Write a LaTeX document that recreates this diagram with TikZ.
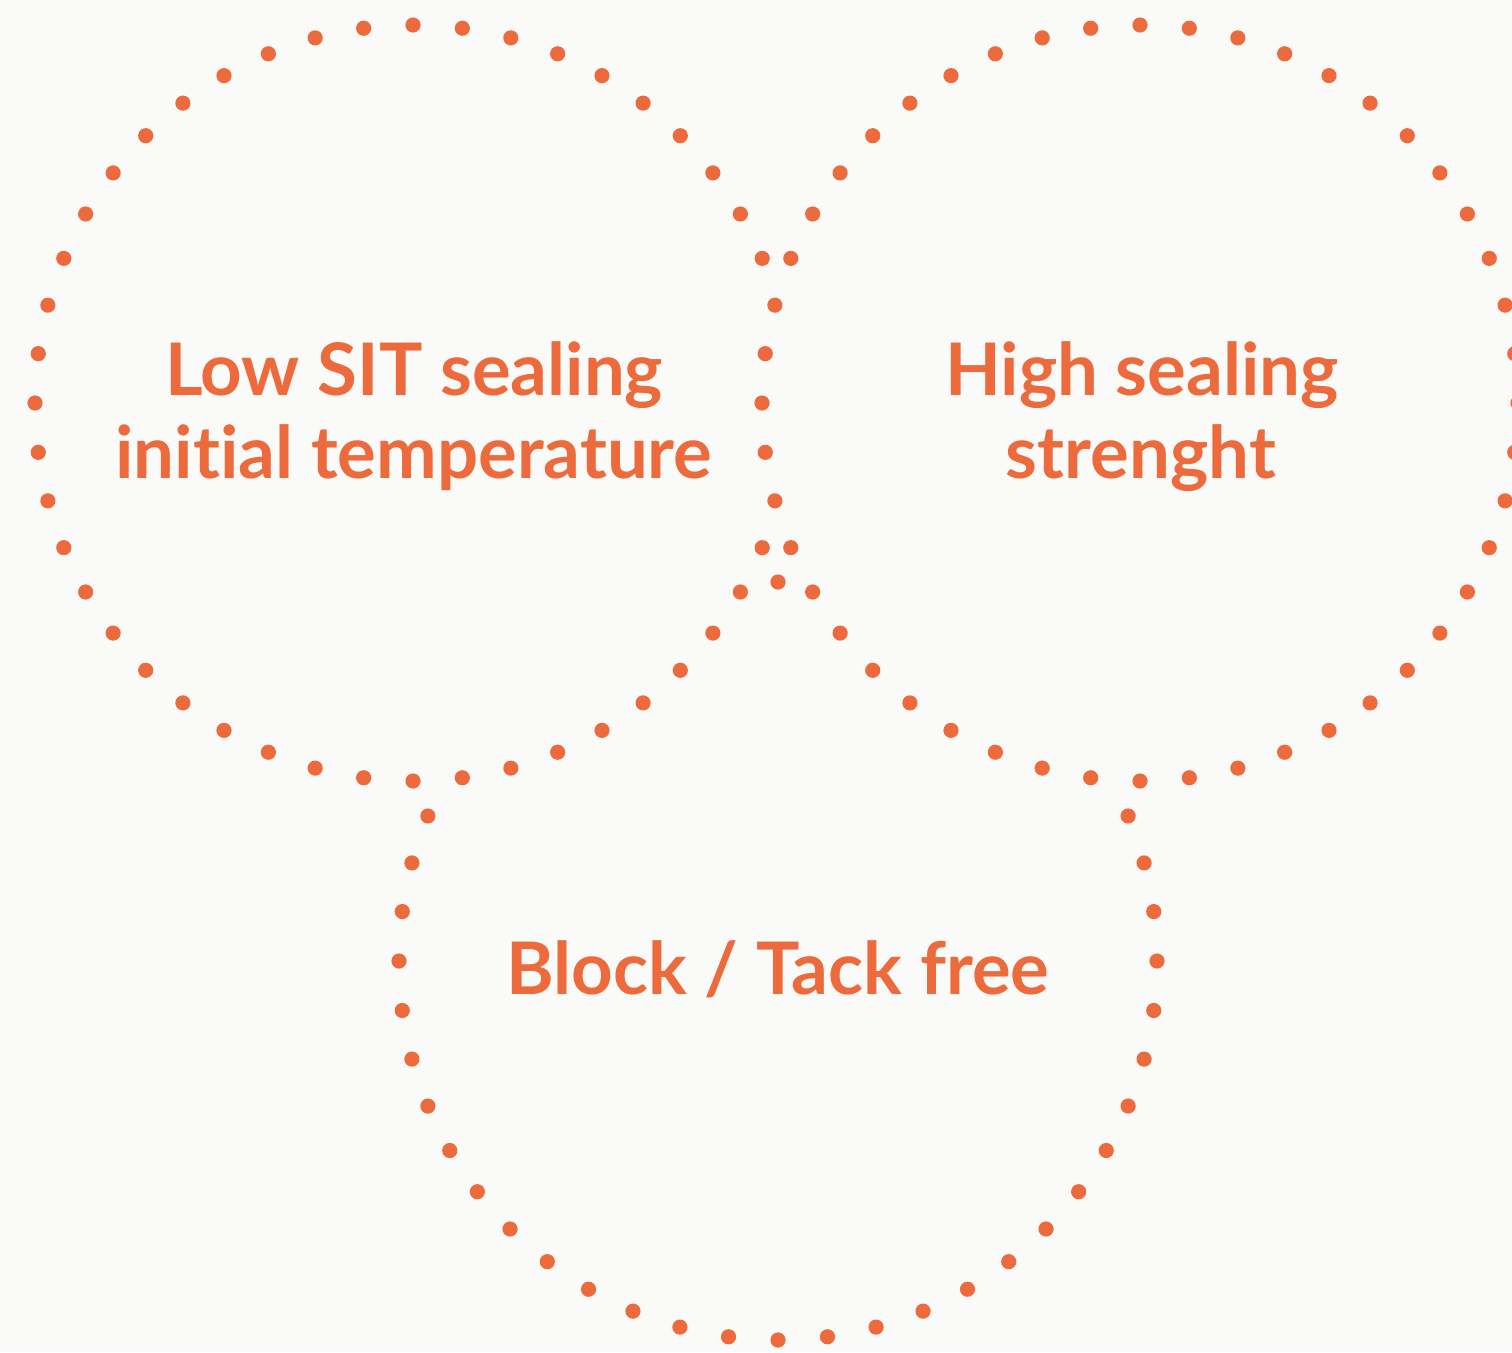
\documentclass[tikz,border=0pt]{standalone}
\usepackage{fontspec}
\setmainfont[RawFeature={-liga;-dlig}]{Lato}
\definecolor{bgc}{HTML}{FAFBF9}
\definecolor{orng}{HTML}{EC6A3C}
\begin{document}
\begin{tikzpicture}[x=1pt,y=-1pt,
  lbl/.style={text=orng,font=\fontsize{72.5}{84}\bfseries\selectfont,inner sep=0pt,anchor=base}]
\useasboundingbox (0,0) rectangle (1512,1352);
\clip (0,0) rectangle (1512,1352);
\fill[bgc] (0,0) rectangle (1512,1352);
\coordinate (c3) at (778,961);
\coordinate (c1) at (413,403);
\coordinate (c2) at (1140,403);
\foreach \c/\r in {c3/379,c1/378,c2/378}{
  \fill[bgc] (\c) circle[radius=\r];
  \foreach \a in {0,7.5,...,352.5}{
    \fill[orng] (\c) ++(\a:\r) circle[radius=7.6];
  }
}
\node[lbl] (l1a) at (414,395) {Low SIT sealing};
\node[lbl] (l1b) at (414,478) {initial temperature};
\node[lbl] (l2a) at (1142,395) {High sealing};
\node[lbl] (l2b) at (1141,478) {strenght};
\node[lbl] (l3) at (778,994) {Block / Tack free};
\end{tikzpicture}
\end{document}
